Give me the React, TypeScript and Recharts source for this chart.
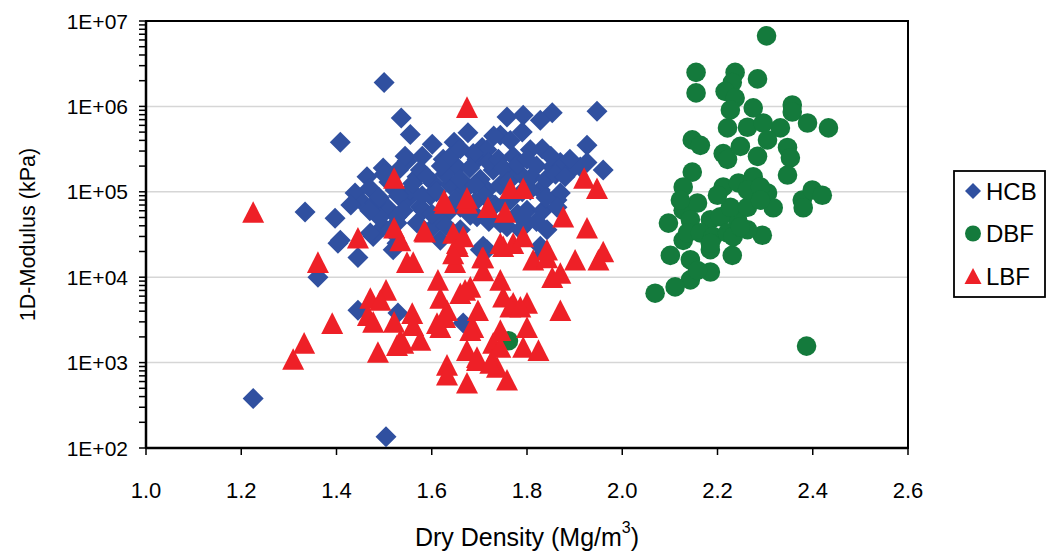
import React from 'react';
import { ScatterChart, Scatter, XAxis, YAxis, CartesianGrid, Legend, ReferenceArea } from 'recharts';

const HCB: [number, number][] = [
  [1.50, 1.9e6], [1.536, 7.3e5], [1.555, 4.7e5], [1.408, 3.8e5], [1.601, 3.6e5], [1.647, 3.8e5],
  [1.676, 4.9e5], [1.706, 3.3e5], [1.548, 2.3e5], [1.464, 1.5e5], [1.498, 1.9e5], [1.439, 9.7e4],
  [1.624, 2.4e5], [1.653, 1.95e5], [1.695, 2.4e5], [1.569, 1.5e5], [1.603, 1.27e5], [1.456, 7.4e4],
  [1.506, 6.6e4], [1.548, 8.0e4], [1.576, 6.6e4], [1.660, 6.6e4], [1.618, 4.7e4], [1.569, 4.3e4],
  [1.397, 4.9e4], [1.408, 2.7e4], [1.445, 1.7e4], [1.477, 3.0e4], [1.498, 3.9e4], [1.527, 5.1e4],
  [1.527, 2.5e4], [1.708, 2.3e4], [1.695, 5.1e4], [1.947, 8.8e5], [1.853, 8.4e5], [1.828, 6.9e5],
  [1.792, 7.9e5], [1.758, 7.5e5], [1.744, 4.6e5], [1.790, 5.0e5], [1.832, 3.2e5], [1.926, 3.5e5],
  [1.853, 1.95e5], [1.870, 2.2e5], [1.912, 1.95e5], [1.960, 1.8e5], [1.716, 3.1e5], [1.771, 2.6e5],
  [1.729, 1.8e5], [1.792, 1.5e5], [1.828, 1.05e5], [1.870, 9.7e4], [1.716, 1.05e5], [1.765, 8.0e4],
  [1.800, 6.1e4], [1.744, 4.3e4], [1.842, 3.6e4], [1.863, 8.0e4], [1.834, 1.9e4], [1.716, 2.1e4],
  [1.687, 2.8e5], [1.897, 1.9e5], [1.926, 2.2e5], [1.544, 2.6e5], [1.334, 5.8e4], [1.361, 1.0e4],
  [1.445, 4.1e3], [1.529, 3.8e3], [1.666, 2.9e3], [1.225, 3.8e2], [1.504, 1.35e2], [1.481, 7.4e4],
  [1.471, 3.3e4], [1.527, 4.3e4], [1.582, 6.1e4], [1.834, 6.1e4], [1.863, 6.6e4], [1.800, 4.3e4],
  [1.758, 3.9e4], [1.702, 2.1e4], [1.403, 2.5e4], [1.519, 2.1e4], [1.828, 2.3e4], [1.597, 9.0e4],
  [1.639, 1.2e5], [1.670, 1.05e5], [1.702, 1.4e5], [1.744, 1.2e5], [1.775, 1.6e5], [1.807, 1.05e5],
  [1.639, 6.1e4], [1.681, 5.3e4], [1.733, 7.0e4], [1.786, 3.6e4], [1.618, 2.7e4], [1.660, 3.6e4],
  [1.597, 3.6e4], [1.555, 1.05e5], [1.523, 1.05e5], [1.576, 1.8e5], [1.628, 1.6e5], [1.513, 3.6e4],
  [1.765, 4.0e5], [1.807, 3.1e5],
  [1.47, 1.1e5], [1.49, 8.5e4], [1.51, 1.3e5], [1.53, 9.0e4], [1.56, 1.25e5], [1.58, 9.0e4],
  [1.59, 1.5e5], [1.61, 1.0e5], [1.62, 2.0e5], [1.64, 2.6e5], [1.66, 1.4e5], [1.68, 1.9e5],
  [1.69, 1.2e5], [1.71, 9.0e4], [1.72, 2.2e5], [1.74, 2.4e5], [1.75, 1.9e5], [1.76, 1.3e5],
  [1.78, 2.1e5], [1.79, 1.0e5], [1.80, 2.4e5], [1.81, 1.5e5], [1.82, 2.0e5], [1.84, 1.4e5],
  [1.85, 2.6e5], [1.86, 1.6e5], [1.88, 1.5e5], [1.89, 2.4e5], [1.72, 4.5e4], [1.75, 7.0e4],
  [1.78, 5.5e4], [1.82, 4.5e4], [1.84, 8.5e4], [1.49, 5.0e4], [1.54, 6.0e4], [1.60, 5.5e4],
  [1.63, 4.0e4], [1.65, 8.0e4], [1.69, 7.5e4], [1.47, 6.0e4], [1.43, 7.0e4], [1.50, 1.6e5],
  [1.53, 1.8e5], [1.58, 2.6e5], [1.66, 3.2e5], [1.73, 4.5e5],
];

const DBF: [number, number][] = [
  [2.303, 6.7e6], [2.155, 2.5e6], [2.155, 1.44e6], [2.237, 2.5e6], [2.284, 2.1e6], [2.231, 1.9e6],
  [2.216, 1.5e6], [2.237, 1.25e6], [2.357, 1.04e6], [2.357, 8.6e5], [2.275, 9.6e5], [2.227, 9.1e5],
  [2.389, 6.4e5], [2.433, 5.6e5], [2.332, 5.6e5], [2.221, 5.6e5], [2.263, 5.7e5], [2.296, 6.4e5],
  [2.305, 4.05e5], [2.147, 4.05e5], [2.164, 3.5e5], [2.347, 3.3e5], [2.353, 2.5e5], [2.347, 1.57e5],
  [2.212, 2.8e5], [2.221, 2.4e5], [2.284, 2.6e5], [2.248, 3.4e5], [2.147, 1.7e5], [2.128, 1.14e5],
  [2.212, 1.14e5], [2.244, 1.27e5], [2.275, 1.5e5], [2.305, 9.7e4], [2.317, 6.5e4], [2.378, 8.0e4],
  [2.380, 6.5e4], [2.399, 1.05e5], [2.420, 9.1e4], [2.294, 3.1e4], [2.231, 1.8e4], [2.263, 3.6e4],
  [2.242, 4.7e4], [2.185, 2.1e4], [2.185, 1.15e4], [2.143, 9.3e3], [2.111, 7.7e3], [2.069, 6.5e3],
  [2.101, 1.8e4], [2.128, 2.7e4], [2.097, 4.3e4], [2.128, 6.1e4], [2.158, 7.4e4], [2.143, 4.7e4],
  [2.185, 4.7e4], [2.206, 5.1e4], [2.137, 3.3e4], [2.164, 3.3e4], [2.191, 3.0e4], [2.221, 3.3e4],
  [2.227, 6.6e4], [2.263, 6.6e4], [2.263, 1.05e5], [2.290, 1.14e5], [2.185, 2.5e4], [2.143, 1.6e4],
  [2.158, 1.2e4], [2.233, 3.0e4], [2.248, 3.9e4], [2.290, 8.0e4], [2.387, 1.56e3], [1.761, 1.8e3],
  [2.122, 8.0e4], [2.200, 9.1e4],
];

const LBF: [number, number][] = [
  [1.225, 5.8e4], [1.309, 1.1e3], [1.332, 1.7e3], [1.361, 1.5e4], [1.391, 2.9e3], [1.445, 2.9e4],
  [1.521, 1.45e5], [1.521, 3.8e4], [1.534, 2.7e4], [1.548, 1.5e4], [1.561, 1.5e4], [1.584, 3.5e4],
  [1.471, 5.7e3], [1.504, 7.1e3], [1.492, 5.4e3], [1.466, 3.6e3], [1.477, 3.0e3], [1.521, 3.0e3],
  [1.559, 3.8e3], [1.561, 2.75e3], [1.576, 1.84e3], [1.527, 1.6e3], [1.540, 1.7e3], [1.487, 1.33e3],
  [1.613, 9.3e3], [1.618, 5.7e3], [1.628, 3.4e3], [1.618, 2.6e3], [1.632, 9.4e2], [1.632, 7.2e2],
  [1.649, 1.5e4], [1.655, 2.3e4], [1.660, 6.5e3], [1.681, 7.7e3], [1.697, 4.1e3], [1.687, 2.6e3],
  [1.674, 1.4e3], [1.674, 5.8e2], [1.695, 1.07e3], [1.708, 1.7e4], [1.708, 1.2e4], [1.744, 9.3e3],
  [1.750, 5.9e3], [1.744, 2.4e3], [1.729, 1.7e3], [1.727, 1.07e3], [1.758, 6.3e2], [1.737, 8.9e2],
  [1.771, 5.0e3], [1.800, 5.0e3], [1.800, 2.6e3], [1.792, 1.52e3], [1.824, 1.4e3], [1.870, 4.1e3],
  [1.813, 1.6e4], [1.842, 1.7e4], [1.853, 1.0e4], [1.870, 1.12e4], [1.901, 1.6e4], [1.750, 2.3e4],
  [1.628, 7.4e4], [1.674, 7.4e4], [1.718, 6.6e4], [1.754, 5.8e4], [1.876, 5.1e4], [1.926, 3.8e4],
  [1.960, 2.0e4], [1.950, 1.6e4], [1.586, 3.4e4], [1.645, 3.3e4], [1.653, 2.5e4], [1.706, 1.7e4],
  [1.744, 2.5e4], [1.771, 2.5e4], [1.792, 3.0e4], [1.842, 2.1e4], [1.765, 4.5e3], [1.786, 4.5e3],
  [1.611, 2.9e3], [1.632, 4.1e3], [1.670, 7.1e3], [1.681, 2.4e3], [1.744, 1.52e3], [1.695, 1.16e3],
  [1.723, 9.9e2], [1.534, 1.84e3], [1.765, 1.1e5], [1.792, 1.1e5], [1.920, 1.45e5], [1.947, 1.1e5],
  [1.626, 8.0e4], [1.674, 8.5e4], [1.674, 9.8e5], [1.645, 1.9e4], [1.666, 3.0e4],
];

const X_TICKS = [1.0, 1.2, 1.4, 1.6, 1.8, 2.0, 2.2, 2.4, 2.6];
const X_TICK_LABELS = ['1.0', '1.2', '1.4', '1.6', '1.8', '2.0', '2.2', '2.4', '2.6'];
const Y_DECADES = [1e2, 1e3, 1e4, 1e5, 1e6, 1e7];
const Y_TICK_LABELS = ['1E+02', '1E+03', '1E+04', '1E+05', '1E+06', '1E+07'];
const Y_MINOR_STEPS = [2, 3, 4, 5, 6, 7, 8, 9];
const GRID_VALUES = [1e3, 1e4, 1e5, 1e6];

const SERIES_NAMES = ['HCB', 'DBF', 'LBF'];
const COLORS = { HCB: '#3050A0', DBF: '#147A3C', LBF: '#EE2027' };

const FONT = '"Liberation Sans", Arial, Helvetica, sans-serif';

const Y_TICKS: number[] = [];
Y_DECADES.forEach((d, i) => {
  Y_TICKS.push(d);
  if (i < Y_DECADES.length - 1) Y_MINOR_STEPS.forEach((m) => Y_TICKS.push(d * m));
});

const toPoints = (arr: [number, number][]) => arr.map(([x, y]) => ({ x, y }));

const DiamondShape = (props: any) => {
  const { cx, cy, fill } = props;
  const r = 10.5;
  return <path d={`M${cx},${cy - r}L${cx + r},${cy}L${cx},${cy + r}L${cx - r},${cy}Z`} fill={fill} />;
};
const CircleShape = (props: any) => {
  const { cx, cy, fill } = props;
  return <circle cx={cx} cy={cy} r={9.8} fill={fill} />;
};
const TriangleShape = (props: any) => {
  const { cx, cy, fill } = props;
  const w = 11, h = 10.8;
  return <path d={`M${cx},${cy - h}L${cx + w},${cy + h}L${cx - w},${cy + h}Z`} fill={fill} />;
};

const YTick = (props: any) => {
  const { x, y, payload } = props;
  const idx = Y_DECADES.indexOf(payload.value);
  return (
    <g>
      <line x1={x - 7} x2={x} y1={y} y2={y} stroke="#000" strokeWidth={1.5} />
      {idx >= 0 && (
        <text x={x - 18} y={y} textAnchor="end" dominantBaseline="central" fontSize={21} fontFamily={FONT} fill="#000">
          {Y_TICK_LABELS[idx]}
        </text>
      )}
    </g>
  );
};

const XTick = (props: any) => {
  const { x, y, payload } = props;
  const idx = X_TICKS.indexOf(payload.value);
  return (
    <g>
      <line x1={x} x2={x} y1={y} y2={y + 7} stroke="#000" strokeWidth={1.5} />
      <text x={x} y={y + 42} textAnchor="middle" dominantBaseline="central" fontSize={22} fontFamily={FONT} fill="#000">
        {idx >= 0 ? X_TICK_LABELS[idx] : payload.value}
      </text>
    </g>
  );
};

const YTitle = (props: any) => {
  const vb = props.viewBox || { x: 0, y: 21, width: 146, height: 427 };
  const cx = vb.x + 28;
  const cy = vb.y + vb.height / 2;
  return (
    <text x={cx} y={cy} transform={`rotate(-90 ${cx} ${cy})`} textAnchor="middle" dominantBaseline="central" fontSize={21.5} fontFamily={FONT} fill="#000">
      1D-Modulus (kPa)
    </text>
  );
};

const XTitle = (props: any) => {
  const vb = props.viewBox || { x: 146, y: 448, width: 762, height: 60 };
  const cx = vb.x + vb.width / 2;
  const cy = vb.y + 89;
  return (
    <text x={cx} y={cy} textAnchor="middle" dominantBaseline="central" fontSize={25} fontFamily={FONT} fill="#000">
      <tspan>Dry Density (Mg/m</tspan>
      <tspan dy={-10} fontSize={16}>3</tspan>
      <tspan dy={10}>)</tspan>
    </text>
  );
};

const LegendMarker = ({ name, color }: { name: string; color: string }) => {
  if (name === 'HCB') return <path d="M0,-8L8,0L0,8L-8,0Z" fill={color} />;
  if (name === 'DBF') return <circle cx={0} cy={0} r={8} fill={color} />;
  return <path d="M0,-8L8.5,8L-8.5,8Z" fill={color} />;
};

const LegendBox = () => (
  <svg width={93} height={128} style={{ display: 'block' }}>
    <rect x={1} y={1} width={91} height={126} fill="#fff" stroke="#000" strokeWidth={1.8} />
    {SERIES_NAMES.map((name, i) => (
      <g key={name} transform={`translate(0, ${21 + i * 42.5})`}>
        <g transform="translate(20, 0)">
          <LegendMarker name={name} color={(COLORS as any)[name]} />
        </g>
        <text x={33} y={0} dominantBaseline="central" fontSize={24} fontFamily={FONT} fill="#000">
          {name}
        </text>
      </g>
    ))}
  </svg>
);

export default function App() {
  return (
    <div style={{ position: 'absolute', left: 0, top: 0, width: 1048, height: 559, background: '#fff' }}>
      <ScatterChart width={1048} height={559} margin={{ top: 21, right: 140, bottom: 51, left: 0 }}>
        <CartesianGrid vertical={false} horizontalValues={GRID_VALUES} stroke="#d6d6d6" strokeWidth={1.5} />
        <XAxis
          type="number"
          dataKey="x"
          domain={[1.0, 2.6]}
          ticks={X_TICKS}
          interval={0}
          allowDataOverflow
          height={60}
          tickSize={0}
          tickMargin={0}
          tickLine={false}
          axisLine={{ stroke: '#000', strokeWidth: 2.5 }}
          tick={<XTick />}
          label={<XTitle />}
        />
        <YAxis
          type="number"
          dataKey="y"
          scale="log"
          domain={[100, 10000000]}
          ticks={Y_TICKS}
          interval={0}
          allowDataOverflow
          width={146}
          tickSize={0}
          tickMargin={0}
          tickLine={false}
          axisLine={{ stroke: '#000', strokeWidth: 2.5 }}
          tick={<YTick />}
          label={<YTitle />}
        />
        <ReferenceArea x1={1.0} x2={2.6} y1={100} y2={10000000} fill="none" fillOpacity={0} stroke="#000" strokeWidth={2} />
        <Scatter name="HCB" data={toPoints(HCB)} fill={COLORS.HCB} shape={DiamondShape} isAnimationActive={false} />
        <Scatter name="DBF" data={toPoints(DBF)} fill={COLORS.DBF} shape={CircleShape} isAnimationActive={false} />
        <Scatter name="LBF" data={toPoints(LBF)} fill={COLORS.LBF} shape={TriangleShape} isAnimationActive={false} />
        <Legend
          layout="vertical"
          align="center"
          verticalAlign="middle"
          wrapperStyle={{ left: 953, top: 170, width: 93, height: 128 }}
          content={() => <LegendBox />}
        />
      </ScatterChart>
    </div>
  );
}
